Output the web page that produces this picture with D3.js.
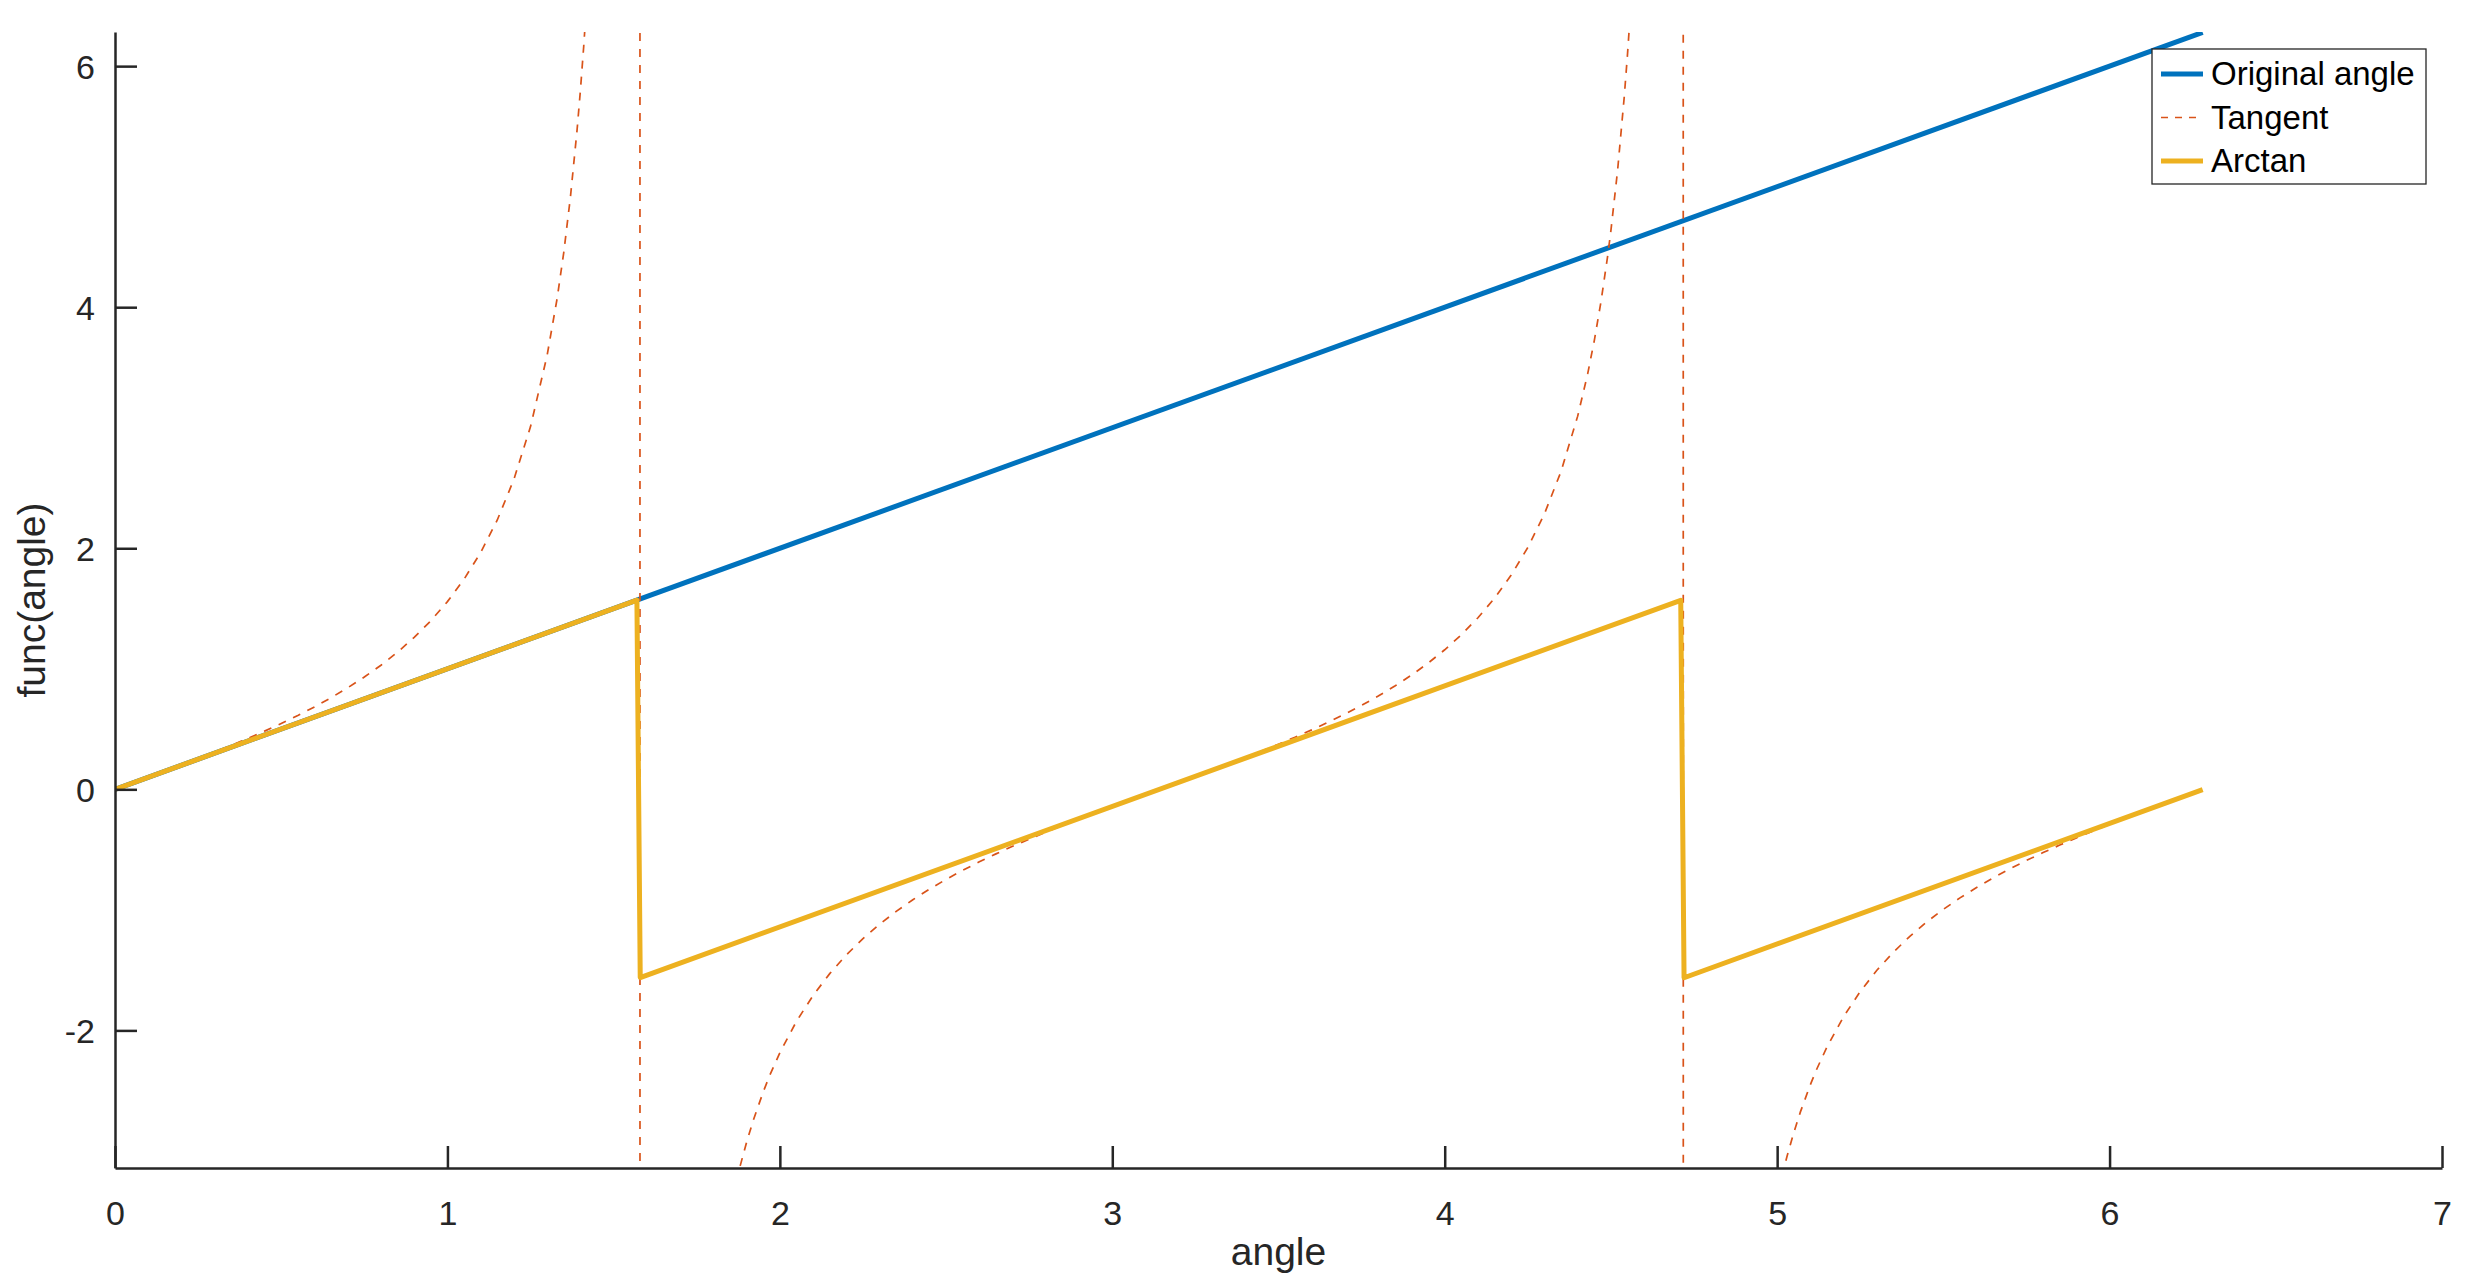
<!DOCTYPE html>
<html>
<head>
<meta charset="utf-8">
<script src="https://cdn.jsdelivr.net/npm/d3@7"></script>
<style>
  body { margin: 0; background: #fff; }
  svg { display: block; }
</style>
</head>
<body>
<div id="chart"></div>
<script>
// Data
const originalAngles = [0, 6.28];
const originalValues = [0, 6.28];

const tanAngles = [
    0, 0.05, 0.1, 0.15, 0.2, 0.25, 0.3, 0.35, 0.4, 0.45, 0.5, 0.55, 0.6, 0.65, 0.7, 0.75,
    0.8, 0.85, 0.9, 0.95, 1.0, 1.05, 1.1, 1.15, 1.2, 1.25, 1.3, 1.33, 1.35, 1.37, 1.39, 1.4,
    1.41, 1.42, 1.43, 1.45, 1.5, 1.55, 1.57,
    1.58, 1.6, 1.65, 1.7, 1.75, 1.8, 1.85, 1.88, 1.9, 1.92, 1.95, 1.97, 2.0, 2.05, 2.1, 2.15,
    2.2, 2.25, 2.3, 2.35, 2.4, 2.45, 2.5, 2.55, 2.6, 2.65, 2.7, 2.75, 2.8, 2.85, 2.9, 2.95,
    3.0, 3.05, 3.1, 3.15, 3.2, 3.25, 3.3, 3.35, 3.4, 3.45, 3.5, 3.55, 3.6, 3.65, 3.7, 3.75,
    3.8, 3.85, 3.9, 3.95, 4.0, 4.05, 4.1, 4.15, 4.2, 4.25, 4.3, 4.35, 4.4, 4.43, 4.45, 4.47,
    4.49, 4.5, 4.52, 4.54, 4.55, 4.56, 4.57, 4.6, 4.65, 4.7, 4.71,
    4.72, 4.75, 4.8, 4.85, 4.9, 4.95, 5.0, 5.02, 5.03, 5.05, 5.07, 5.1, 5.12, 5.15, 5.2, 5.25,
    5.3, 5.35, 5.4, 5.45, 5.5, 5.55, 5.6, 5.65, 5.7, 5.75, 5.8, 5.85, 5.9, 5.95, 6.0, 6.05,
    6.1, 6.15, 6.2, 6.25, 6.28
];
const tanValues = [
    0, 0.05, 0.1003, 0.1511, 0.2027, 0.2553, 0.3093, 0.365, 0.4228, 0.4831, 0.5463, 0.6131, 0.6841, 0.7602, 0.8423, 0.9316,
    1.0296, 1.1383, 1.2602, 1.3984, 1.5574, 1.7433, 1.9648, 2.2345, 2.5722, 3.0096, 3.6021, 4.0724, 4.4552, 4.9131, 5.4707, 5.7979,
    6.1654, 6.5811, 7.0555, 8.2381, 14.1014, 48.0785, 1255.77,
    -108.65, -34.23, -12.599, -7.6966, -5.5204, -4.2863, -3.4881, -3.1304, -2.9271, -2.7463, -2.5095, -2.3705, -2.185, -1.9246, -1.7098, -1.529,
    -1.3738, -1.2387, -1.1192, -1.0124, -0.916, -0.828, -0.747, -0.6718, -0.6016, -0.5354, -0.4727, -0.4129, -0.3555, -0.3001, -0.2453, -0.194,
    -0.1425, -0.0918, -0.0416, 0.0084, 0.0585, 0.1088, 0.1597, 0.2115, 0.2644, 0.3186, 0.3746, 0.4328, 0.4935, 0.5572, 0.6247, 0.6965,
    0.7736, 0.8568, 0.9474, 1.0471, 1.1578, 1.2822, 1.4235, 1.5866, 1.7778, 2.0064, 2.2858, 2.6376, 3.0963, 3.4466, 3.7233, 4.0444,
    4.4222, 4.6373, 5.1335, 5.7432, 6.1038, 6.5112, 6.9755, 8.8602, 16.007, 80.7, 418.6,
    -131.4, -26.575, -11.385, -7.2209, -5.2675, -4.1291, -3.3805, -3.1477, -3.0419, -2.8486, -2.6761, -2.4494, -2.3159, -2.1374, -1.8856, -1.6773,
    -1.5013, -1.35, -1.2176, -1.1004, -0.9956, -0.9007, -0.814, -0.734, -0.6597, -0.5902, -0.5247, -0.4625, -0.4031, -0.3461, -0.291, -0.2375,
    -0.1853, -0.134, -0.0834, -0.0332, -0.0032
];

const arctanAngles = [0, 1.57, 1.58, 4.71, 4.72, 6.28];
const arctanValues = [0, 1.57, -1.5616, 1.5684, -1.5632, -0.0032];

const xTicks = [0, 1, 2, 3, 4, 5, 6, 7];
const yTicks = [-2, 0, 2, 4, 6];
const seriesNames = ['Original angle', 'Tangent', 'Arctan'];

const width = 2474, height = 1288;
const margin = { left: 115, right: 2442, top: 32, bottom: 1168 };
const font = '"Liberation Sans", Arial, Helvetica, sans-serif';
const axisColor = '#262626';
const colors = { blue: '#0072BD', red: '#D95319', yellow: '#EDB120' };

const svg = d3.select('#chart').append('svg')
    .attr('width', width)
    .attr('height', height)
    .style('background-color', 'white');

const x = d3.scaleLinear().domain([0, 7]).range([margin.left, margin.right]);
const y = d3.scaleLinear().domain([-Math.PI, 2 * Math.PI]).range([margin.bottom, margin.top]);

svg.append('clipPath').attr('id', 'plot-clip')
    .append('rect')
    .attr('x', margin.left).attr('y', margin.top)
    .attr('width', margin.right - margin.left).attr('height', margin.bottom - margin.top);

const line = d3.line().x(d => x(d[0])).y(d => y(d[1]));
const zip = (a, b) => a.map((v, i) => [v, b[i]]);

const plot = svg.append('g').attr('clip-path', 'url(#plot-clip)');

// Original angle
plot.append('path')
    .attr('d', line(zip(originalAngles, originalValues)))
    .attr('fill', 'none')
    .attr('stroke', colors.blue)
    .attr('stroke-width', 5);

// Tangent (dashed)
plot.append('path')
    .attr('d', line(zip(tanAngles, tanValues)))
    .attr('fill', 'none')
    .attr('stroke', colors.red)
    .attr('stroke-width', 1.7)
    .attr('stroke-dasharray', '8,8');

// Arctan
plot.append('path')
    .attr('d', line(zip(arctanAngles, arctanValues)))
    .attr('fill', 'none')
    .attr('stroke', colors.yellow)
    .attr('stroke-width', 5)
    .attr('stroke-linejoin', 'round');

// Axes
const xAxis = svg.append('g')
    .attr('transform', `translate(0,${margin.bottom})`)
    .call(d3.axisBottom(x).tickValues(xTicks).tickFormat(d3.format('d'))
        .tickSizeInner(-22).tickSizeOuter(0).tickPadding(33));

const yAxis = svg.append('g')
    .attr('transform', `translate(${margin.left},0)`)
    .call(d3.axisLeft(y).tickValues(yTicks).tickFormat(d3.format('d'))
        .tickSizeInner(-22).tickSizeOuter(0).tickPadding(20));

[xAxis, yAxis].forEach(g => {
    g.select('.domain').attr('stroke', axisColor).attr('stroke-width', 2.5);
    g.selectAll('.tick line').attr('stroke', axisColor).attr('stroke-width', 2.5);
    g.selectAll('.tick text')
        .attr('fill', axisColor)
        .style('font-family', font)
        .style('font-size', '34px');
});
yAxis.selectAll('.tick text').attr('dy', '0.37em');
// d3 prints a unicode minus; reference uses a plain hyphen
yAxis.selectAll('.tick text').text(d => String(d));

// Axis labels
svg.append('text')
    .attr('x', (margin.left + margin.right) / 2)
    .attr('y', 1265)
    .attr('text-anchor', 'middle')
    .attr('fill', axisColor)
    .style('font-family', font)
    .style('font-size', '39px')
    .text('angle');

svg.append('text')
    .attr('transform', `translate(45,${(margin.top + margin.bottom) / 2}) rotate(-90)`)
    .attr('text-anchor', 'middle')
    .attr('fill', axisColor)
    .style('font-family', font)
    .style('font-size', '39px')
    .text('func(angle)');

// Legend
const legend = svg.append('g');
legend.append('rect')
    .attr('x', 2152).attr('y', 49)
    .attr('width', 274).attr('height', 135)
    .attr('fill', 'white')
    .attr('stroke', axisColor)
    .attr('stroke-width', 1.3);

const legendStyles = [
    { color: colors.blue, width: 5, dash: null },
    { color: colors.red, width: 1.7, dash: '7,7' },
    { color: colors.yellow, width: 5, dash: null }
];

seriesNames.forEach((name, i) => {
    const cy = 74 + i * 43.5;
    legend.append('line')
        .attr('x1', 2161).attr('x2', 2203)
        .attr('y1', cy).attr('y2', cy)
        .attr('stroke', legendStyles[i].color)
        .attr('stroke-width', legendStyles[i].width)
        .attr('stroke-dasharray', legendStyles[i].dash);
    legend.append('text')
        .attr('x', 2211)
        .attr('y', cy + 11)
        .attr('fill', '#000')
        .style('font-family', font)
        .style('font-size', '33px')
        .text(name);
});
</script>
</body>
</html>
